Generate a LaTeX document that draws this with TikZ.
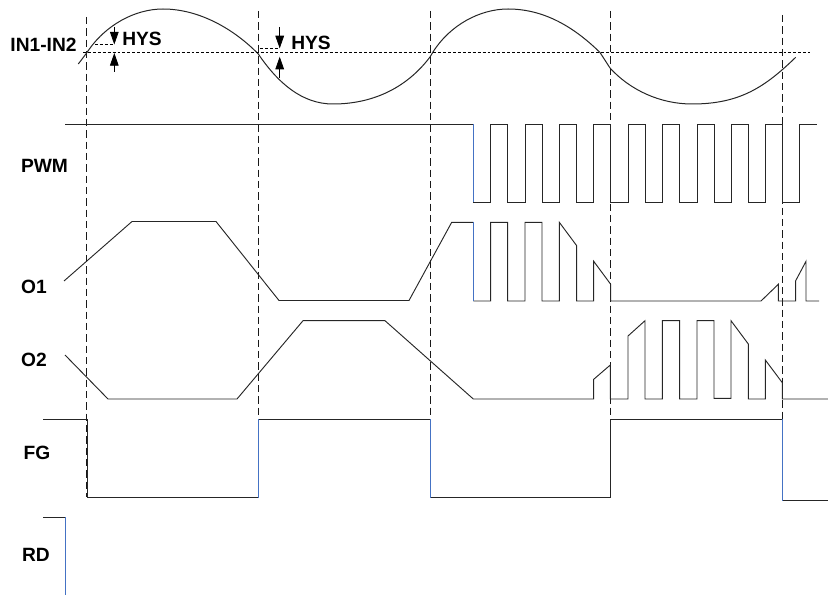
\documentclass[tikz,border=0pt]{standalone}
\usepackage{fontspec}
\setmainfont{Liberation Sans}
\usetikzlibrary{arrows.meta}
\tikzset{
  px/.style={x=0.75pt,y=-0.75pt},
  wave/.style={line width=0.7pt,black!85,line join=miter},
  bluewave/.style={line width=0.7pt,draw={rgb,255:red,68;green,114;blue,196}},
  guide/.style={line width=0.75pt,black!90,dash pattern=on 5.4pt off 3.1pt},
  level/.style={line width=1.1pt,black,dash pattern=on 2.2pt off 1.5pt},
  hysarrow/.style={line width=0.6pt,black,-{Triangle[width=6.5pt,length=9.5pt]}},
  lab/.style={font=\fontsize{14.4}{16}\selectfont\bfseries,inner sep=0pt,anchor=center}
}
\begin{document}
\begin{tikzpicture}[px]
\path[use as bounding box] (0,0) rectangle (828,595);
% dashed guides
\draw[guide] (86.7,17) -- (86.7,497);
\draw[guide] (258.4,11) -- (258.4,419);
\draw[guide] (430,11) -- (430,419);
\draw[guide] (610.7,11) -- (610.7,497);
\draw[guide] (782.3,15) -- (782.3,419);
% comparator signal
\draw[wave,line width=0.75pt]
  (78.3,64) -- (87,52.5)
  .. controls (105,25) and (135,9) .. (163,9)
  .. controls (200,9) and (235,30) .. (258.3,54)
  .. controls (278,83) and (302,104) .. (333,104)
  .. controls (370,104) and (405,90) .. (430,57)
  -- (433,52)
  .. controls (450,25) and (480,9) .. (508,9)
  .. controls (545,9) and (575,28) .. (600,52.5)
  -- (610,68)
  .. controls (630,90) and (660,104) .. (692,104)
  .. controls (740,104) and (765,87) .. (795.7,57.3);
\draw[level] (83,52.5) -- (810,52.5);
% hysteresis marks
\draw[level] (95,44.5) -- (114.3,44.5);
\draw[level] (260,48.4) -- (279.7,48.4);
\draw[hysarrow] (114.3,27) -- (114.3,44.5);
\draw[hysarrow] (114.3,72) -- (114.3,53);
\draw[hysarrow] (279.7,27) -- (279.7,48.4);
\draw[hysarrow] (279.7,77.7) -- (279.7,56.7);
% PWM
\draw[wave] (65,124) -- (473.3,124) (473.3,202.5) -- (490.7,202.5) -- (490.7,124) -- (507.7,124) -- (507.7,202.5)
 -- (525,202.5) -- (525,124) -- (542,124) -- (542,202.5) -- (559.3,202.5) -- (559.3,124) -- (576.7,124) -- (576.7,202.5)
 -- (593.7,202.5) -- (593.7,124) -- (610.7,124) -- (610.7,202.5) -- (628,202.5) -- (628,124) -- (645,124) -- (645,202.5)
 -- (662.3,202.5) -- (662.3,124) -- (679.7,124) -- (679.7,202.5) -- (697,202.5) -- (697,124) -- (714,124) -- (714,202.5)
 -- (731,202.5) -- (731,124) -- (748.3,124) -- (748.3,202.5) -- (765.3,202.5) -- (765.3,124) -- (782.3,124) -- (782.3,202.5)
 -- (799.7,202.5) -- (799.7,124) -- (816.7,124);
\draw[bluewave] (473.3,124) -- (473.3,202.5);
% O1
\draw[wave] (64,281) -- (132,221.5) -- (216,221.5) -- (279,300.5) -- (409,300.5) -- (451.7,222.3) -- (473.3,222.3)
 (473.3,301) -- (490.7,301) -- (490.7,222.3) -- (507.7,222.3) -- (507.7,301) -- (525,301) -- (525,222.3) -- (542,222.3)
 -- (542,301) -- (559.3,301) -- (559.3,222.3) -- (576.7,245.7) -- (576.7,301) -- (593.7,301) -- (593.7,261.3)
 -- (610.7,284.3) -- (610.7,301) -- (761,301) -- (778.3,284.3) -- (778.3,301) -- (795.7,301) -- (795.7,280.7)
 -- (806,261.3) -- (806,301) -- (819,301);
\draw[bluewave] (473.3,222.3) -- (473.3,301);
% O2
\draw[wave] (65,355) -- (108,399) -- (237,399) -- (303,320.7) -- (385,320.7) -- (473.3,399) -- (593.7,399) -- (593.7,379.3)
 -- (610.3,365) -- (610.3,399) -- (628,399) -- (628,336) -- (645,320.7) -- (645,399) -- (662.3,399) -- (662.3,320.7)
 -- (679.7,320.7) -- (679.7,399) -- (697,399) -- (697,320.7) -- (714,320.7) -- (714,398.3) -- (731,398.3) -- (731,320.7)
 -- (748.3,344) -- (748.3,399) -- (765.3,399) -- (765.3,360) -- (782.3,382.7) -- (782.3,399) -- (828,399);
% FG
\draw[wave] (43,419) -- (87,419) -- (87,497.5) -- (258.5,497.5) (258.5,419) -- (430,419) (430,497.5) -- (610.6,497.5)
 -- (610.6,419) -- (782.3,419) (782.3,500.5) -- (828,500.5);
\draw[bluewave] (258.5,497.5) -- (258.5,419);
\draw[bluewave] (430,419) -- (430,497.5);
\draw[bluewave] (782.3,419) -- (782.3,500.5);
% RD
\draw[wave] (43,517) -- (65,517);
\draw[bluewave] (65,517) -- (65,595);
% labels
\node[lab] (in) at (43.5,44.5) {IN1-IN2};
\node[lab] (hysa) at (142,38.5) {HYS};
\node[lab] (hysb) at (311,43.3) {HYS};
\node[lab] (pwm) at (44.5,165.5) {PWM};
\node[lab] (oa) at (34,287) {O1};
\node[lab] (ob) at (34,360) {O2};
\node[lab] (fg) at (37,453) {FG};
\node[lab] (rd) at (36,555) {RD};
\end{tikzpicture}
\end{document}
